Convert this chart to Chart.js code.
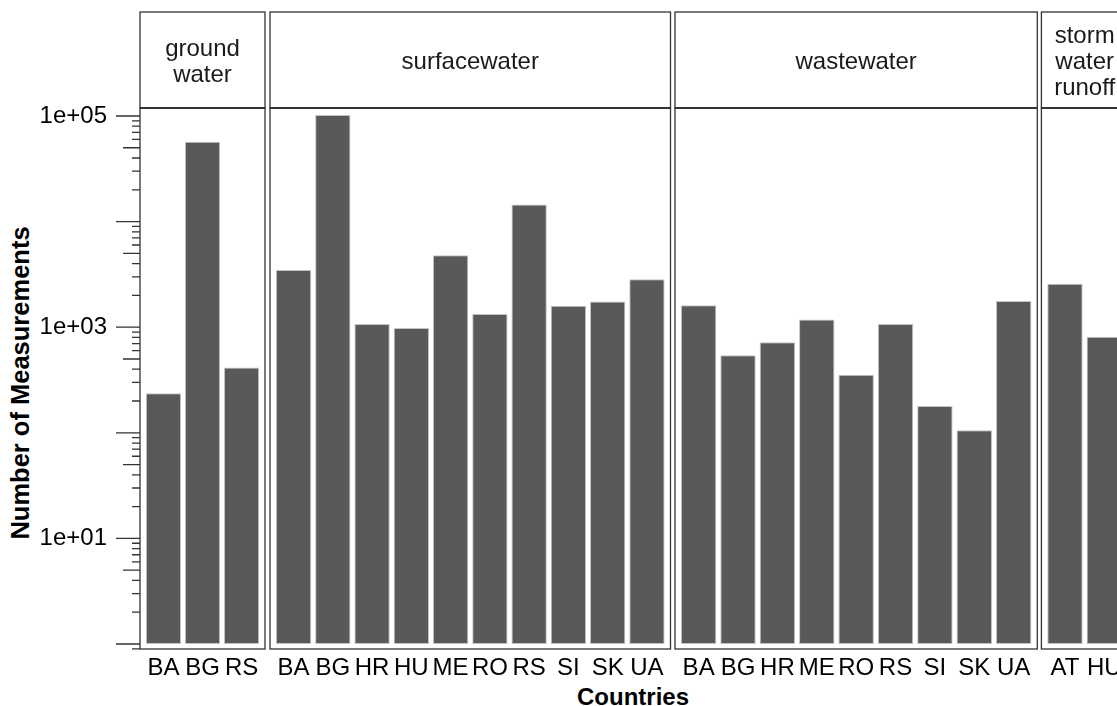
<!DOCTYPE html>
<html>
<head>
<meta charset="utf-8">
<title>Number of Measurements by Country and Water Type</title>
<script src="https://cdn.jsdelivr.net/npm/chart.js@4.4.1/dist/chart.umd.min.js"></script>
<style>
  html, body { margin: 0; padding: 0; background: #ffffff; }
  #fig {
    position: relative; width: 1117px; height: 706px; overflow: hidden;
    font-family: "Liberation Sans", Arial, sans-serif; color: #000;
  }
  #fig canvas { position: absolute; top: 0; }
  #xtitle {
    position: absolute; left: 433px; top: 683px; width: 400px;
    text-align: center; font-weight: bold; font-size: 24px; line-height: 28px;
  }
  #ytitle {
    position: absolute; left: -280px; top: 369px; width: 600px;
    text-align: center; font-weight: bold; font-size: 25.5px; line-height: 28px;
    transform: rotate(-90deg); transform-origin: 50% 50%;
  }
</style>
</head>
<body>
<div id="fig">
  <div id="ytitle">Number of Measurements</div>
  <div id="xtitle">Countries</div>
</div>
<script>
// Measurement counts per country, one panel per water type
const groundStrip = ['ground', 'water'];
const groundCountries = ['BA', 'BG', 'RS'];
const groundCounts = [237, 57000, 415];

const surfaceStrip = ['surfacewater'];
const surfaceCountries = ['BA', 'BG', 'HR', 'HU', 'ME', 'RO', 'RS', 'SI', 'SK', 'UA'];
const surfaceCounts = [3480, 102000, 1070, 980, 4800, 1330, 14500, 1600, 1750, 2840];

const wasteStrip = ['wastewater'];
const wasteCountries = ['BA', 'BG', 'HR', 'ME', 'RO', 'RS', 'SI', 'SK', 'UA'];
const wasteCounts = [1610, 542, 719, 1180, 355, 1070, 179, 106, 1770];

const stormStrip = ['storm', 'water', 'runoff'];
const stormCountries = ['AT', 'HU'];
const stormCounts = [2580, 813];

// Log axis: decade ticks and their labels
const yDecades = [1, 10, 100, 1000, 10000, 100000];
const yDecadeLabels = ['', '1e+01', '', '1e+03', '', '1e+05'];
const yMin = 0.897;
const yMax = 119000;

// Panel geometry (box edges in page pixels)
const FONT = '"Liberation Sans", Arial, sans-serif';
const STRIP_TOP = 12;
const PANEL_TOP = 108;
const FIG_H = 706;
const X_AXIS_H = 57;
const PAD = 4;

const panels = [
  { strip: groundStrip,  labels: groundCountries,  values: groundCounts,  left: 140,    right: 265,    yAxis: true },
  { strip: surfaceStrip, labels: surfaceCountries, values: surfaceCounts, left: 270,    right: 670.5,  yAxis: false },
  { strip: wasteStrip,   labels: wasteCountries,   values: wasteCounts,   left: 675,    right: 1037.3, yAxis: false },
  { strip: stormStrip,   labels: stormCountries,   values: stormCounts,   left: 1041.4, right: 1127.9, yAxis: false }
];

Chart.defaults.font.family = FONT;
Chart.defaults.font.size = 24;
Chart.defaults.color = '#000';

// Panel box, strip header and (for the first panel) log tick marks
const panelFrame = {
  id: 'panelFrame',
  afterDraw(chart, args, opts) {
    const { ctx, chartArea: a } = chart;
    ctx.save();
    ctx.strokeStyle = '#333';
    ctx.lineWidth = 1.3;
    // strip header box
    ctx.strokeRect(a.left, STRIP_TOP, a.right - a.left, a.top - STRIP_TOP);
    // panel box
    ctx.strokeRect(a.left, a.top, a.right - a.left, a.bottom - a.top);
    // heavier rule between strip and panel
    ctx.lineWidth = 2.2;
    ctx.beginPath();
    ctx.moveTo(a.left, a.top);
    ctx.lineTo(a.right, a.top);
    ctx.stroke();

    // strip text
    ctx.fillStyle = '#1a1a1a';
    ctx.font = '24px ' + FONT;
    ctx.textAlign = 'center';
    ctx.textBaseline = 'alphabetic';
    const lines = opts.strip;
    const cx = (a.left + a.right) / 2;
    const lh = 26;
    lines.forEach((t, i) => {
      ctx.fillText(t, cx, 68.5 + (i - (lines.length - 1) / 2) * lh);
    });

    if (opts.yAxis) {
      const y = chart.scales.y;
      ctx.strokeStyle = '#333';
      ctx.lineWidth = 1.3;
      ctx.beginPath();
      for (let e = -1; e <= 6; e++) {
        for (let m = 1; m <= 9; m++) {
          const v = m * Math.pow(10, e);
          if (v < y.min || v > y.max) continue;
          const py = y.getPixelForValue(v);
          const len = m === 1 ? 24 : (m === 5 ? 17 : 8);
          ctx.moveTo(a.left - len, py);
          ctx.lineTo(a.left, py);
        }
      }
      ctx.stroke();
    }
    ctx.restore();
  }
};

const fig = document.getElementById('fig');

panels.forEach(p => {
  const canvasLeft = p.yAxis ? 0 : Math.floor(p.left - PAD);
  const canvasWidth = Math.ceil(p.right + PAD - canvasLeft);
  const leftPad = p.yAxis ? 0 : p.left - canvasLeft;
  const rightPad = canvasWidth - (p.right - canvasLeft);

  const canvas = document.createElement('canvas');
  canvas.width = canvasWidth;
  canvas.height = FIG_H;
  canvas.style.left = canvasLeft + 'px';
  canvas.style.width = canvasWidth + 'px';
  canvas.style.height = FIG_H + 'px';
  fig.appendChild(canvas);

  new Chart(canvas, {
    type: 'bar',
    data: {
      datasets: [{
        data: p.values.map((v, i) => ({ x: i, y: v })),
        backgroundColor: '#595959',
        borderColor: '#c4c4c4',
        borderWidth: 1,
        borderSkipped: false,
        base: 1,
        barPercentage: 0.9,
        categoryPercentage: 1.0
      }]
    },
    options: {
      responsive: false,
      animation: false,
      devicePixelRatio: 1,
      layout: { padding: { left: leftPad, right: rightPad, top: PANEL_TOP, bottom: 0 } },
      plugins: {
        legend: { display: false },
        tooltip: { enabled: false },
        panelFrame: { strip: p.strip, yAxis: p.yAxis }
      },
      scales: {
        x: {
          type: 'linear',
          min: -0.6,
          max: p.labels.length - 0.4,
          offset: false,
          grid: { display: false, drawTicks: false },
          border: { display: false },
          afterBuildTicks: s => { s.ticks = p.labels.map((_, i) => ({ value: i })); },
          afterFit: s => { s.height = X_AXIS_H; },
          ticks: {
            autoSkip: false,
            maxRotation: 0,
            minRotation: 0,
            padding: 5,
            color: '#000',
            font: { size: 24 },
            callback: v => p.labels[v]
          }
        },
        y: {
          type: 'logarithmic',
          display: p.yAxis,
          position: 'left',
          min: yMin,
          max: yMax,
          grid: { display: false, drawTicks: false },
          border: { display: false },
          afterBuildTicks: s => { s.ticks = yDecades.map(v => ({ value: v })); },
          afterFit: s => { s.width = p.yAxis ? p.left : 0; },
          ticks: {
            padding: 33,
            color: '#000',
            font: { size: 24 },
            callback: v => {
              const k = yDecades.findIndex(d => Math.abs(d - v) < 1e-6 * d);
              return k >= 0 ? yDecadeLabels[k] : '';
            }
          }
        }
      }
    },
    plugins: [panelFrame]
  });
});
</script>
</body>
</html>
